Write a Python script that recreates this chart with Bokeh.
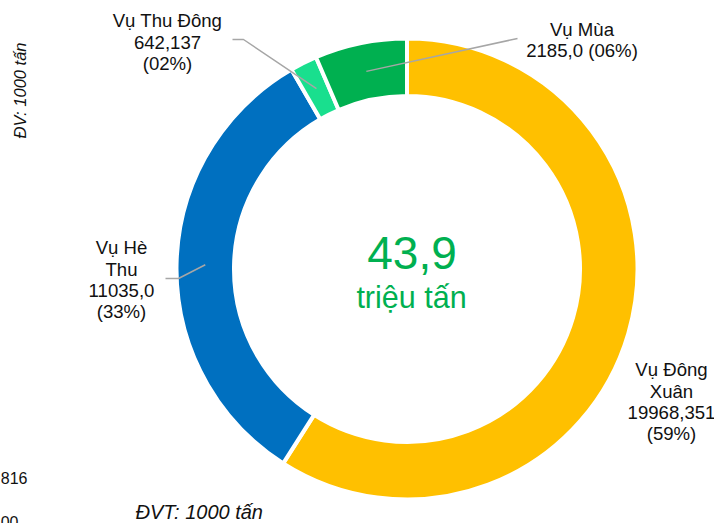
import math
from bokeh.plotting import figure
from bokeh.models import Range1d, ColumnDataSource
from bokeh.core.properties import value
from bokeh.embed import file_html
from bokeh.resources import INLINE

# ---------------- data ----------------
seasons = ["Vụ Đông Xuân", "Vụ Hè Thu", "Vụ Thu Đông", "Vụ Mùa"]
name_lines = [["Vụ Đông", "Xuân"], ["Vụ Hè", "Thu"], ["Vụ Thu Đông"], ["Vụ Mùa"]]
values = [19968.351, 11035.0, 642.137, 2185.0]
value_labels = ["19968,351", "11035,0", "642,137", "2185,0"]
colors = ["#FFC000", "#0070C0", "#19DF8E", "#00B050"]
center_value = "43,9"
center_unit = "triệu tấn"
unit_side = "ĐV: 1000 tấn"
unit_bottom = "ĐVT: 1000 tấn"
edge_texts = ["816", "00"]

# ---------------- layout (screen pixels) ----------------
W, H = 714, 523
OFF = 0
CX, CY = 406.5, 268.5
R_OUT, R_IN = 228.5, 175.0
FONT = value("Liberation Sans")
LINE_GAP = 21.2
FIX = 0.33  # empirical baseline correction (em)

label_pos = [(671, 375.5), (121, 253.5), (167, 26.5), (581.5, 35.0)]
merge_value_pct = [False, False, False, True]
leader_pts = [[], [(178, 278), (165, 278)], [(243, 39), (232, 39)], [(517, 38)]]


def dy(sy, fs=0.0):
    return OFF + H - sy + FIX * fs


p = figure(width=W, height=H, output_backend="svg", toolbar_location=None,
           x_range=Range1d(OFF, OFF + W), y_range=Range1d(0, H),
           min_border=0, outline_line_color=None)
p.axis.visible = False
p.grid.visible = False
p.background_fill_color = "white"
p.border_fill_color = "white"

total = sum(values)
starts, ends, mids, pcts = [], [], [], []
cum = 0.0
for v in values:
    a0 = cum / total * 2 * math.pi
    cum += v
    a1 = cum / total * 2 * math.pi
    starts.append(math.pi / 2 - a0)
    ends.append(math.pi / 2 - a1)
    mids.append((a0 + a1) / 2)
    pcts.append(v / total * 100)

src = ColumnDataSource(dict(x=[CX] * 4, y=[dy(CY)] * 4, start=starts, end=ends,
                            color=colors))
p.annular_wedge(x="x", y="y", inner_radius=R_IN - 2, outer_radius=R_OUT + 2,
                start_angle="start", end_angle="end", direction="clock",
                fill_color="color", line_color="white", line_width=4, source=src)

# leader lines
r_mid = (R_OUT + R_IN) / 2
for i in range(4):
    if not leader_pts[i]:
        continue
    sx = CX + r_mid * math.sin(mids[i])
    sy = CY - r_mid * math.cos(mids[i])
    xs = [sx] + [pt[0] for pt in leader_pts[i]]
    ys = [dy(sy)] + [dy(pt[1]) for pt in leader_pts[i]]
    p.line(xs, ys, line_color="#A6A6A6", line_width=1.5)

# labels
LFS = 18.6
for i in range(4):
    pct = "(%02d%%)" % round(pcts[i])
    if merge_value_pct[i]:
        lines = name_lines[i] + [value_labels[i] + " " + pct]
    else:
        lines = name_lines[i] + [value_labels[i], pct]
    lx, ly = label_pos[i]
    p.text(x=[lx] * len(lines),
           y=[dy(ly + k * LINE_GAP, LFS) for k in range(len(lines))],
           text=lines, text_font=FONT, text_font_size=f"{LFS}px", text_align="center",
           text_baseline="alphabetic", text_color="#111111")

# center text
p.text(x=[411.5], y=[dy(268, 46)], text=[center_value], text_font=FONT,
       text_font_size="46px", text_align="center", text_baseline="alphabetic",
       text_color="#00B050")
p.text(x=[411], y=[dy(307, 30.5)], text=[center_unit], text_font=FONT,
       text_font_size="30.5px", text_align="center", text_baseline="alphabetic",
       text_color="#00B050")

# side / bottom texts
p.text(x=[25 - FIX * 16.5], y=[dy(90)], text=[unit_side], text_font=FONT,
       text_font_size="16.5px", text_font_style="italic", text_align="center",
       text_baseline="alphabetic", angle=math.pi / 2, text_color="#111111")
p.text(x=[135], y=[dy(518.5, 20)], text=[unit_bottom], text_font=FONT,
       text_font_size="20px", text_font_style="italic", text_align="left",
       text_baseline="alphabetic", text_color="#111111")
p.text(x=[27, 18], y=[dy(483, 16), dy(526.5, 16)], text=edge_texts, text_font=FONT,
       text_font_size="16px", text_align="right", text_baseline="alphabetic",
       text_color="#111111")

open("out.html", "w").write(file_html(p, INLINE))
